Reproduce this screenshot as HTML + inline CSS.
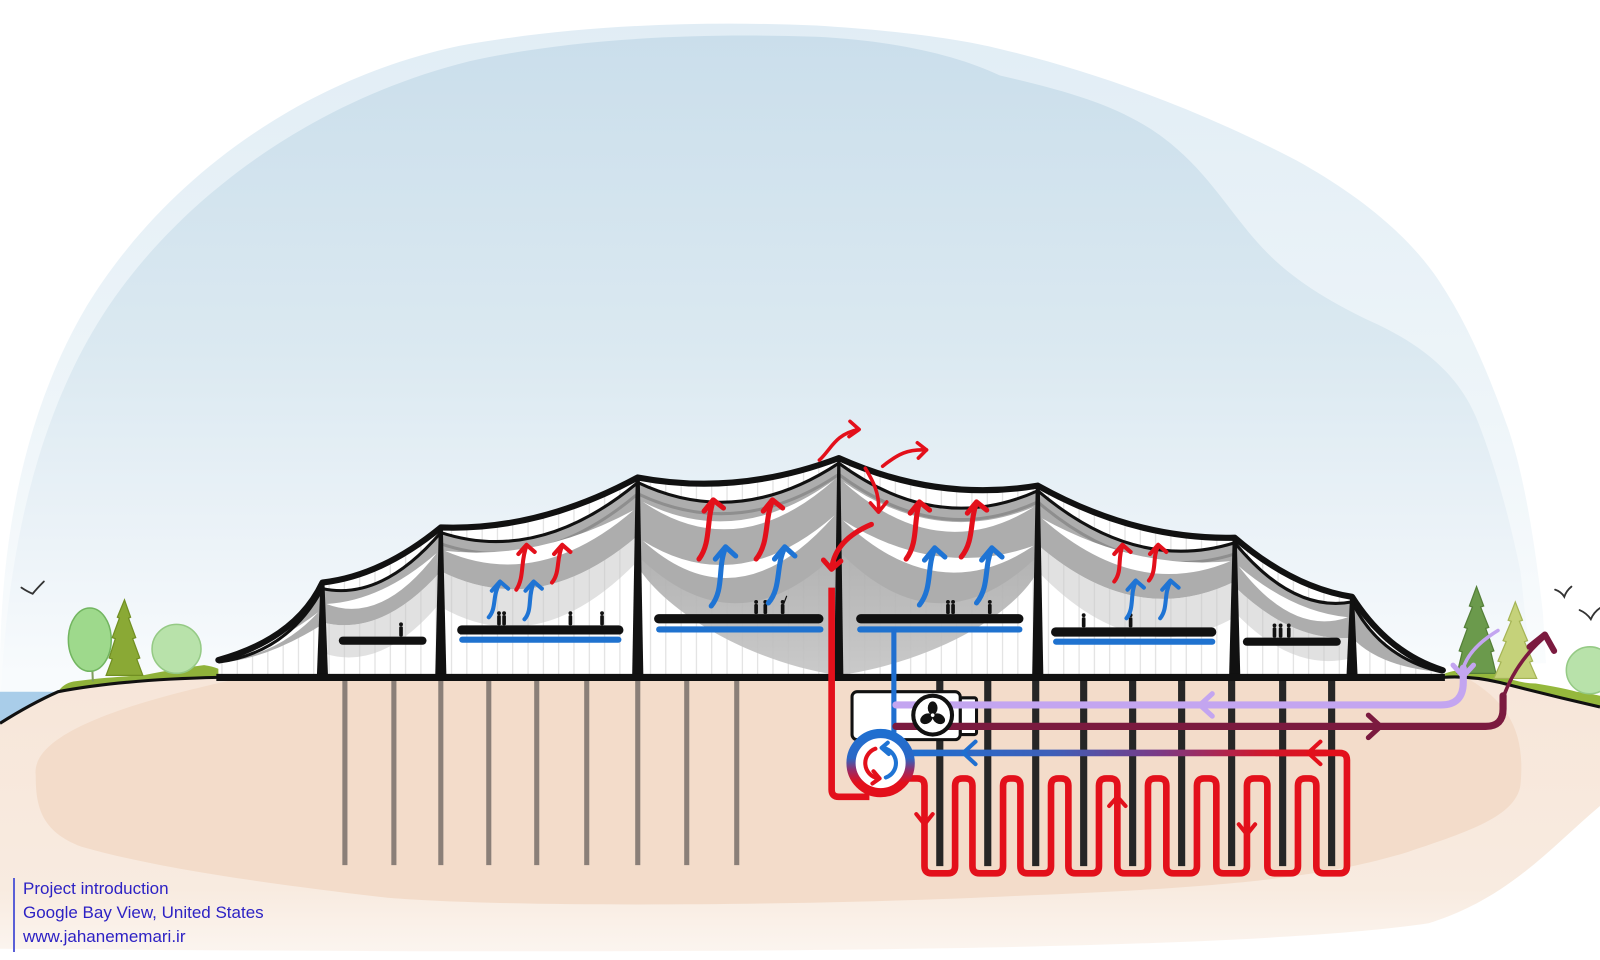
<!DOCTYPE html>
<html><head><meta charset="utf-8"><style>
html,body{margin:0;padding:0;background:#fff;}
#wrap{position:relative;width:1600px;height:960px;overflow:hidden;background:#fff;}
svg{position:absolute;left:0;top:0;}
.txt{position:absolute;left:23px;top:877px;font-family:"Liberation Sans",sans-serif;font-size:17px;line-height:24px;color:#2d22c4;white-space:nowrap;}
.bar{position:absolute;left:13px;top:878px;width:2px;height:74px;background:#5a5fd6;}
</style></head><body><div id="wrap">
<svg width="1600" height="960" viewBox="0 0 1568 941" preserveAspectRatio="none" xmlns="http://www.w3.org/2000/svg">
<defs>
<linearGradient id="skyIn" gradientUnits="userSpaceOnUse" x1="0" y1="30" x2="0" y2="660">
<stop offset="0" stop-color="#cadeeb"/><stop offset="0.5" stop-color="#dbe9f1"/><stop offset="0.8" stop-color="#ecf3f8"/><stop offset="1" stop-color="#f8fbfd"/></linearGradient>
<linearGradient id="skyOut" gradientUnits="userSpaceOnUse" x1="0" y1="20" x2="0" y2="660">
<stop offset="0" stop-color="#e1edf5"/><stop offset="0.6" stop-color="#eef5f9"/><stop offset="1" stop-color="#fafcfd"/></linearGradient>
<linearGradient id="gnd" gradientUnits="userSpaceOnUse" x1="0" y1="664" x2="0" y2="941">
<stop offset="0" stop-color="#f7e6d9"/><stop offset="0.75" stop-color="#f8ebe0"/><stop offset="1" stop-color="#fcf6f1"/></linearGradient>
<linearGradient id="ret" gradientUnits="userSpaceOnUse" x1="890" y1="0" x2="1300" y2="0">
<stop offset="0" stop-color="#1f6fd0"/><stop offset="0.35" stop-color="#3f5fb8"/><stop offset="0.6" stop-color="#7a3a86"/><stop offset="0.85" stop-color="#d0182c"/><stop offset="1" stop-color="#e3101b"/></linearGradient>
<linearGradient id="cir" gradientUnits="userSpaceOnUse" x1="0" y1="718" x2="0" y2="778">
<stop offset="0" stop-color="#1f6fd0"/><stop offset="0.42" stop-color="#2a68c6"/><stop offset="0.62" stop-color="#9a2a66"/><stop offset="0.82" stop-color="#e3101b"/></linearGradient>
<linearGradient id="bowl" gradientUnits="userSpaceOnUse" x1="0" y1="540" x2="0" y2="664">
<stop offset="0" stop-color="#ababab"/><stop offset="1" stop-color="#c6c6c6"/></linearGradient>
<pattern id="glaze" width="15" height="20" patternUnits="userSpaceOnUse">
<rect width="15" height="20" fill="#ffffff"/><line x1="7.5" y1="0" x2="7.5" y2="20" stroke="#dcdcdc" stroke-width="1"/></pattern>
</defs>

<!-- sky -->
<path d="M0,700 L0,660 C0,540 20,410 85,300 C155,185 285,80 450,45 C560,25 680,20 800,25 C880,30 940,38 980,48 C1080,72 1180,110 1270,157 C1330,190 1380,230 1410,275 C1440,320 1460,370 1478,420 C1495,470 1505,540 1512,600 L1515,650 Z" fill="url(#skyOut)"/>
<path d="M0,700 C5,560 30,420 100,310 C170,200 300,100 460,60 C560,38 680,32 800,36 C880,40 940,55 980,74 C1050,90 1100,105 1140,135 C1180,165 1200,200 1230,235 C1260,270 1300,295 1350,318 C1400,342 1430,370 1447,410 C1465,455 1480,510 1490,560 L1500,650 Z" fill="url(#skyIn)"/>

<!-- water -->
<path d="M0,678 L56,678 L56,690 Q30,692 0,709 Z" fill="#a9cde9"/>

<!-- ground -->
<path d="M0,709 Q30,690 57,678 Q120,666 214,664 L1414,664 Q1440,662 1470,669 Q1520,682 1568,693 L1568,790 C1520,830 1480,880 1400,905 C1200,935 600,935 0,930 Z" fill="url(#gnd)"/>
<path d="M35,760 C30,720 120,690 230,666 L1440,666 C1480,690 1495,720 1490,770 C1485,800 1440,815 1380,835 C1300,860 1200,870 1000,878 C800,888 500,890 380,880 C250,865 150,850 80,830 C40,815 35,790 35,760 Z" fill="#f3dcca"/>

<!-- grass -->
<path d="M57,678 Q62,670 72,668 Q100,664 140,662 Q175,655 200,652 Q215,654 225,662 L214,664 Q120,666 57,678 Z" fill="#8fb23a"/>
<path d="M1414,661 Q1425,656 1445,656 Q1460,657 1470,662 Q1490,670 1505,670 Q1530,674 1545,678 Q1560,680 1568,682 L1568,693 Q1520,682 1470,669 Q1440,662 1414,664 Z" fill="#95b83c"/>

<!-- trees left -->
<line x1="90" y1="645" x2="91" y2="668" stroke="#7f9d5c" stroke-width="2"/>
<ellipse cx="88" cy="627" rx="21" ry="31" fill="#9ed98c" stroke="#72b560" stroke-width="1.5"/>
<path d="M122,588 L128,605 L126,606 L133,625 L130,626 L137,645 L134,646 L140,662 L104,662 L110,646 L107,645 L113,626 L110,625 L117,606 L115,605 Z" fill="#8aa935" stroke="#718f22" stroke-width="1.2"/>
<circle cx="173" cy="636" r="24" fill="#b8e2aa" stroke="#95ca85" stroke-width="1.5"/>
<!-- trees right -->
<path d="M1447,575 L1454,594 L1451,595 L1459,615 L1456,616 L1464,638 L1461,639 L1466,660 L1428,660 L1433,639 L1430,638 L1438,616 L1435,615 L1443,595 L1440,594 Z" fill="#6b9a4c" stroke="#547f38" stroke-width="1.2"/>
<path d="M1485,590 L1492,608 L1489,609 L1497,628 L1494,629 L1502,648 L1499,649 L1506,665 L1464,665 L1471,649 L1468,648 L1476,629 L1473,628 L1481,609 L1478,608 Z" fill="#c5d27a" stroke="#a5b455" stroke-width="1.2"/>
<circle cx="1558" cy="657" r="23" fill="#b8e2aa" stroke="#95ca85" stroke-width="1.5"/>

<!-- birds -->
<g fill="none" stroke="#333" stroke-width="1.8" stroke-linecap="round">
<path d="M21,576 Q27,580 32,582 Q36,577 43,570"/>
<path d="M1524,578 Q1530,580 1533,585 Q1535,579 1540,575"/>
<path d="M1548,598 Q1555,601 1559,607 Q1562,600 1568,596"/>
</g>

<!-- building interior -->
<path d="M214,647 Q290,626 316,571 Q374,564.5 432,517 Q528,520.5 625,468 Q723,486.5 822,449 Q919,492.5 1017,476 Q1113,529.5 1210,527 Q1267,576 1325,585 Q1360,640 1414,657 L1414,664 L214,664 Z" fill="url(#glaze)"/>

<!-- central bowl -->
<path d="M628,540 L628,560 C660,605 740,650 822,662 C905,650 985,610 1014,565 L1014,540 Z" fill="url(#bowl)" opacity="0.92"/>

<!-- canopy grays -->
<g fill="#adadad">
<path d="M316,577 Q374,589.5 432,522 L432,560 Q374,625 316,610 Z"/>
<path d="M432,522 Q528,553.5 625,473 L625,525 Q528,608 432,560 Z"/>
<path d="M625,473 Q723,519.5 822,454 L822,540 Q723,640 625,545 Z"/>
<path d="M822,454 Q919,525.5 1017,481 L1017,545 Q919,640 822,540 Z"/>
<path d="M1017,481 Q1113,562.5 1210,532 L1210,570 Q1113,617 1017,534 Z"/>
<path d="M1210,532 Q1267,601 1325,590 L1325,625 Q1267,630 1210,575 Z"/>
<path d="M214,649 Q282,640 316,577 L316,612 Q262,646 214,650 Z"/>
<path d="M1325,590 Q1352,645 1414,659 Q1352,654 1325,625 Z"/>
</g>
<g fill="#c9c9c9" opacity="0.55">
<path d="M316,610 Q374,625 432,560 L432,590 Q374,660 316,640 Z"/>
<path d="M432,560 Q528,608 625,525 L625,550 Q528,650 432,595 Z"/>
<path d="M1017,534 Q1113,617 1210,570 L1210,605 Q1113,660 1017,560 Z"/>
<path d="M1210,575 Q1267,630 1325,625 L1325,645 Q1267,660 1210,600 Z"/>
</g>
<g fill="none" stroke="#8e8e8e" stroke-width="3">
<path d="M432,533 Q528,566 625,484"/>
<path d="M625,484 Q723,531 822,465"/>
<path d="M822,465 Q919,537 1017,492"/>
<path d="M1017,492 Q1113,574 1210,543"/>
</g>
<!-- white crescents -->
<g fill="#ffffff">
<path d="M320,592 Q374,613 428,542 Q374,589 320,592 Z"/>
<path d="M436,540 Q528,580 621,500 Q528,550 436,540 Z"/>
<path d="M630,492 Q723,555 818,470 Q723,539 630,492 Z"/>
<path d="M630,530 Q723,614 818,505 Q723,588 630,530 Z"/>
<path d="M826,472 Q919,556 1013,497 Q919,536 826,472 Z"/>
<path d="M826,510 Q919,598 1013,535 Q919,568 826,510 Z"/>
<path d="M1021,508 Q1113,589 1206,550 Q1113,559 1021,508 Z"/>
<path d="M1214,555 Q1267,624 1321,605 Q1267,600 1214,555 Z"/>
<path d="M222,648 Q275,640 312,600 Q270,632 222,648 Z"/>
</g>

<!-- roof lines -->
<path d="M214,647 Q290,626 316,571 Q374,564.5 432,517 Q528,520.5 625,468 Q723,486.5 822,449 Q919,492.5 1017,476 Q1113,529.5 1210,527 Q1267,576 1325,585 Q1360,640 1414,657" fill="none" stroke="#111" stroke-width="6" stroke-linejoin="round" stroke-linecap="round"/>
<path d="M214,649 Q282,640 316,577 Q374,589.5 432,522 Q528,553.5 625,473 Q723,519.5 822,454 Q919,525.5 1017,481 Q1113,562.5 1210,532 Q1267,601 1325,590 Q1352,645 1414,659" fill="none" stroke="#111" stroke-width="3" stroke-linejoin="round"/>

<!-- columns -->
<g fill="#111">
<polygon points="314,571 318,571 321.5,664 310.5,664"/>
<polygon points="430,517 434,517 437.5,664 426.5,664"/>
<polygon points="623,468 627,468 630.5,664 619.5,664"/>
<polygon points="820.5,449 823.5,449 826.5,664 817.5,664"/>
<polygon points="1015,476 1019,476 1022.5,664 1011.5,664"/>
<polygon points="1208,527 1212,527 1215.5,664 1204.5,664"/>
<polygon points="1323,585 1327,585 1330.5,664 1319.5,664"/>
</g>

<!-- slabs -->
<g fill="#111">
<rect x="332" y="624" width="86" height="8" rx="4"/>
<rect x="448" y="613" width="163" height="9" rx="4.5"/>
<rect x="641" y="602" width="166" height="9" rx="4.5"/>
<rect x="839" y="602" width="164" height="9" rx="4.5"/>
<rect x="1030" y="615" width="162" height="9" rx="4.5"/>
<rect x="1218" y="625" width="96" height="8" rx="4"/>
</g>
<g fill="#1f72cf">
<rect x="450" y="624" width="159" height="6" rx="3"/>
<rect x="643" y="614" width="164" height="6" rx="3"/>
<rect x="840" y="614" width="162" height="6" rx="3"/>
<rect x="1032" y="626" width="159" height="6" rx="3"/>
</g>

<!-- people -->
<g fill="#111">
<rect x="391.2" y="614" width="3.6" height="10" rx="1.2"/><circle cx="393" cy="612" r="1.9"/>
<rect x="487.2" y="603" width="3.6" height="10" rx="1.2"/><circle cx="489" cy="601" r="1.9"/>
<rect x="492.2" y="603" width="3.6" height="10" rx="1.2"/><circle cx="494" cy="601" r="1.9"/>
<rect x="557.2" y="603" width="3.6" height="10" rx="1.2"/><circle cx="559" cy="601" r="1.9"/>
<rect x="588.2" y="603" width="3.6" height="10" rx="1.2"/><circle cx="590" cy="601" r="1.9"/>
<rect x="739.2" y="592" width="3.6" height="10" rx="1.2"/><circle cx="741" cy="590" r="1.9"/>
<rect x="748.2" y="592" width="3.6" height="10" rx="1.2"/><circle cx="750" cy="590" r="1.9"/>
<rect x="765.2" y="592" width="3.6" height="10" rx="1.2"/><circle cx="767" cy="590" r="1.9"/>
<rect x="927.2" y="592" width="3.6" height="10" rx="1.2"/><circle cx="929" cy="590" r="1.9"/>
<rect x="932.2" y="592" width="3.6" height="10" rx="1.2"/><circle cx="934" cy="590" r="1.9"/>
<rect x="968.2" y="592" width="3.6" height="10" rx="1.2"/><circle cx="970" cy="590" r="1.9"/>
<rect x="1060.2" y="605" width="3.6" height="10" rx="1.2"/><circle cx="1062" cy="603" r="1.9"/>
<rect x="1106.2" y="605" width="3.6" height="10" rx="1.2"/><circle cx="1108" cy="603" r="1.9"/>
<rect x="1247.2" y="615" width="3.6" height="10" rx="1.2"/><circle cx="1249" cy="613" r="1.9"/>
<rect x="1253.2" y="615" width="3.6" height="10" rx="1.2"/><circle cx="1255" cy="613" r="1.9"/>
<rect x="1261.2" y="615" width="3.6" height="10" rx="1.2"/><circle cx="1263" cy="613" r="1.9"/>
</g>
<line x1="768" y1="592" x2="771" y2="584" stroke="#111" stroke-width="1.2"/>

<!-- blue arrows -->
<g fill="none" stroke="#1f74d4" stroke-linecap="round" stroke-linejoin="round">
<g stroke-width="4">
<path d="M479,605 C487,596 482,584 490,571"/><path d="M482,579 L490,570 L498,577"/>
<path d="M514,607 C522,598 517,585 523,571"/><path d="M515,579 L523,570 L531,577"/>
<path d="M1104,606 C1112,596 1107,583 1113,570"/><path d="M1105,578 L1113,569 L1121,576"/>
<path d="M1137,606 C1145,596 1140,583 1147,570"/><path d="M1139,578 L1147,569 L1155,576"/>
</g>
<g stroke-width="5">
<path d="M697,594 C710,578 703,556 711,537"/><path d="M701,548 L711,536 L721,545"/>
<path d="M753,591 C766,576 760,555 769,537"/><path d="M759,548 L769,536 L779,545"/>
<path d="M901,593 C914,577 908,556 916,538"/><path d="M906,549 L916,537 L926,546"/>
<path d="M957,591 C970,575 964,556 972,538"/><path d="M962,549 L972,537 L982,546"/>
</g>
</g>
<!-- red arrows -->
<g fill="none" stroke="#e3101b" stroke-linecap="round" stroke-linejoin="round">
<g stroke-width="4">
<path d="M506,578 C514,566 510,550 516,535"/><path d="M508,543 L516,534 L524,541"/>
<path d="M541,571 C549,561 545,548 551,535"/><path d="M543,543 L551,534 L559,541"/>
<path d="M1092,570 C1100,560 1095,548 1100,535"/><path d="M1092,543 L1100,534 L1108,541"/>
<path d="M1126,569 C1134,559 1129,547 1135,535"/><path d="M1127,543 L1135,534 L1143,541"/>
</g>
<g stroke-width="5">
<path d="M685,548 C697,532 692,510 699,491"/><path d="M690,501 L699,490 L709,498"/>
<path d="M741,548 C754,532 749,510 757,491"/><path d="M748,501 L757,490 L767,498"/>
<path d="M888,548 C900,532 895,511 901,493"/><path d="M892,503 L901,492 L911,500"/>
<path d="M942,546 C955,530 950,511 957,493"/><path d="M948,503 L957,492 L967,500"/>
<path d="M854,514 C835,522 818,535 815,557"/><path d="M807,549 L815,558 L824,550"/>
</g>
<g stroke-width="3.5">
<path d="M803,451 C815,440 818,426 841,421"/><path d="M833,413 L842,421 L832,428"/>
<path d="M865,457 C880,445 890,440 908,441"/><path d="M899,434 L908,441 L900,449"/>
<path d="M848,459 C856,472 862,484 861,501"/><path d="M853,493 L861,502 L869,492"/>
</g>
</g>

<!-- piles -->
<g stroke="#8a7f78" stroke-width="5">
<line x1="338" y1="664" x2="338" y2="848"/><line x1="386" y1="664" x2="386" y2="848"/>
<line x1="432" y1="664" x2="432" y2="848"/><line x1="479" y1="664" x2="479" y2="848"/>
<line x1="526" y1="664" x2="526" y2="848"/><line x1="575" y1="664" x2="575" y2="848"/>
<line x1="625" y1="664" x2="625" y2="848"/><line x1="673" y1="664" x2="673" y2="848"/>
<line x1="722" y1="664" x2="722" y2="848"/>
</g>
<g stroke="#262626" stroke-width="7">
<line x1="921" y1="664" x2="921" y2="849"/><line x1="968" y1="664" x2="968" y2="849"/>
<line x1="1015" y1="664" x2="1015" y2="849"/><line x1="1062" y1="664" x2="1062" y2="849"/>
<line x1="1110" y1="664" x2="1110" y2="849"/><line x1="1158" y1="664" x2="1158" y2="849"/>
<line x1="1207" y1="664" x2="1207" y2="849"/><line x1="1257" y1="664" x2="1257" y2="849"/>
<line x1="1305" y1="664" x2="1305" y2="849"/>
</g>

<!-- base line & ground line -->
<path d="M0,709 Q30,690 57,678 Q120,666 214,664" fill="none" stroke="#111" stroke-width="3"/>
<path d="M1414,664 Q1440,662 1470,669 Q1520,682 1568,693" fill="none" stroke="#111" stroke-width="3"/>
<line x1="212" y1="664" x2="1416" y2="664" stroke="#111" stroke-width="7"/>

<!-- serpentine -->
<path d="M884,763 L899,763 Q906,763 906,770 L906,849 Q906,856 913,856 L929,856 Q936,856 936,849 L936,770 Q936,763 943,763 L946,763 Q953,763 953,770 L953,849 Q953,856 960,856 L976,856 Q983,856 983,849 L983,770 Q983,763 990,763 L993,763 Q1000,763 1000,770 L1000,849 Q1000,856 1007,856 L1023,856 Q1030,856 1030,849 L1030,770 Q1030,763 1037,763 L1040,763 Q1047,763 1047,770 L1047,849 Q1047,856 1054,856 L1070,856 Q1077,856 1077,849 L1077,770 Q1077,763 1084,763 L1088,763 Q1095,763 1095,770 L1095,849 Q1095,856 1102,856 L1118,856 Q1125,856 1125,849 L1125,770 Q1125,763 1132,763 L1136,763 Q1143,763 1143,770 L1143,849 Q1143,856 1150,856 L1166,856 Q1173,856 1173,849 L1173,770 Q1173,763 1180,763 L1185,763 Q1192,763 1192,770 L1192,849 Q1192,856 1199,856 L1215,856 Q1222,856 1222,849 L1222,770 Q1222,763 1229,763 L1235,763 Q1242,763 1242,770 L1242,849 Q1242,856 1249,856 L1265,856 Q1272,856 1272,849 L1272,770 Q1272,763 1279,763 L1283,763 Q1290,763 1290,770 L1290,849 Q1290,856 1297,856 L1313,856 Q1320,856 1320,849 L1320,745 Q1320,738 1313,738 L1250,738" fill="none" stroke="#e3101b" stroke-width="6.5" stroke-linejoin="round"/>
<path d="M890,738 L1300,738" fill="none" stroke="url(#ret)" stroke-width="6.5"/>
<g fill="none" stroke-linecap="round" stroke-linejoin="round" stroke-width="4">
<path d="M898,798 L906,808 L914,798" stroke="#e3101b"/>
<path d="M1087,790 L1095,781 L1103,790" stroke="#e3101b"/>
<path d="M1214,808 L1222,818 L1230,808" stroke="#e3101b"/>
<path d="M956,727 L944,738 L956,749" stroke="#1f6fd0"/>
<path d="M1294,727 L1282,738 L1294,749" stroke="#e3101b"/>
</g>

<!-- red vertical pipe -->
<path d="M815,576 L815,774 Q815,781 822,781 L852,781" fill="none" stroke="#e3101b" stroke-width="6.5"/>

<!-- fan box -->
<rect x="941" y="684" width="16" height="36" rx="2" fill="#fff" stroke="#111" stroke-width="3"/>
<rect x="835" y="678" width="106" height="47" rx="5" fill="#fff" stroke="#111" stroke-width="3"/>

<!-- blue vertical pipe -->
<line x1="876" y1="616" x2="876" y2="724" stroke="#1f6fd0" stroke-width="5"/>

<!-- lavender & maroon -->
<g fill="none" stroke-linecap="round" stroke-linejoin="round">
<path d="M878,691 L1412,691 Q1434,691 1434,669 L1434,655" stroke="#c3a5f0" stroke-width="7"/>
<path d="M1434,655 Q1440,635 1468,618" stroke="#c3a5f0" stroke-width="3.5"/>
<path d="M1424,652 L1434,663 L1444,652" stroke="#c3a5f0" stroke-width="5"/>
<path d="M1188,680 L1176,691 L1188,702" stroke="#c3a5f0" stroke-width="5"/>
<path d="M878,712 L1456,712 Q1473,712 1473,695 L1473,682" stroke="#7b1a3f" stroke-width="7"/>
<path d="M1473,684 Q1485,650 1512,626" stroke="#7b1a3f" stroke-width="3.5"/>
<path d="M1499,634 L1514,622 L1523,638" stroke="#7b1a3f" stroke-width="6"/>
<path d="M1341,701 L1353,712 L1341,723" stroke="#7b1a3f" stroke-width="5"/>
</g>

<!-- fan -->
<circle cx="914" cy="701" r="19" fill="#fff" stroke="#111" stroke-width="4"/>
<g transform="translate(914,701)" fill="#111">
<ellipse cx="0" cy="-7" rx="4.8" ry="6.5"/>
<ellipse cx="0" cy="-7" rx="4.8" ry="6.5" transform="rotate(120)"/>
<ellipse cx="0" cy="-7" rx="4.8" ry="6.5" transform="rotate(240)"/>
<circle cx="0" cy="0" r="1.8" fill="#fff"/>
</g>

<!-- heat pump circle -->
<circle cx="863" cy="748" r="29" fill="#fff" stroke="url(#cir)" stroke-width="9"/>
<g fill="none" stroke-width="4" stroke-linecap="round" stroke-linejoin="round">
<path d="M857.9,733.9 A15,15 0 0 0 860.4,762.8" stroke="#e3101b"/>
<path d="M856,756 L862,763 L855,768" stroke="#e3101b"/>
<path d="M868.1,762.1 A15,15 0 0 0 865.6,733.2" stroke="#1f74d4"/>
<path d="M870,728 L864,733 L871,739" stroke="#1f74d4"/>
</g>
</svg>
<div class="bar"></div>
<div class="txt">Project introduction<br>Google Bay View, United States<br>www.jahanememari.ir</div>
</div></body></html>
